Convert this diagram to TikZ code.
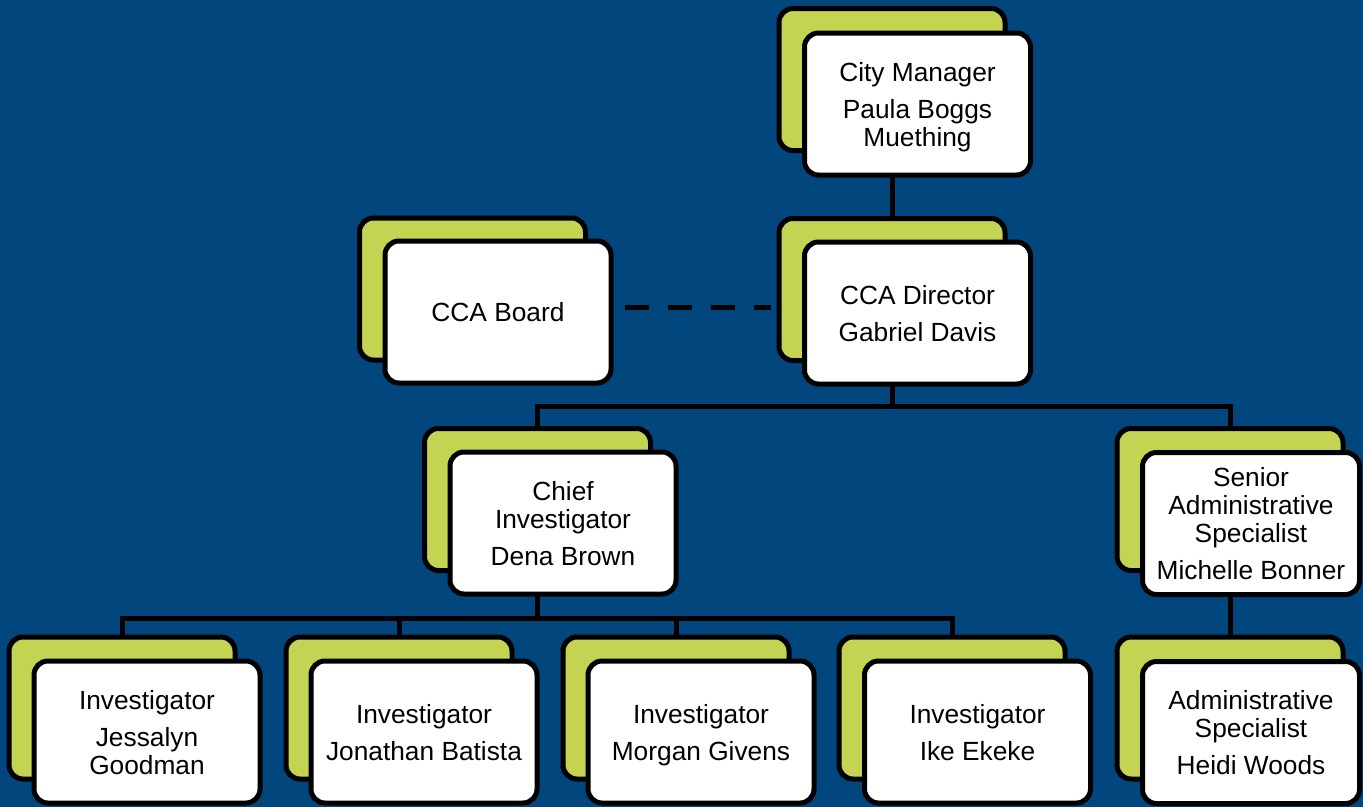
\documentclass[tikz,border=0pt]{standalone}
\usepackage{fontspec}
\setmainfont{Liberation Sans}
\definecolor{navybg}{RGB}{1,70,125}
\definecolor{limecard}{RGB}{196,212,82}
% fixed height for the first line and depth for the last line of every card
\newcommand\cardtop{\rule{0pt}{25pt}}
\newcommand\cardstrut{\rule[-5.6pt]{0pt}{5.6pt}}
\tikzset{
  x=1pt, y=-1pt,
  card/.style={draw=black, line width=5pt, rounded corners=14pt,
    minimum width=226pt, minimum height=142pt, inner sep=0pt,
    align=center, font=\fontsize{26.3}{28}\selectfont},
  backcard/.style={card, fill=limecard},
  frontcard/.style={card, fill=white},
  conn/.style={draw=black, line width=5pt},
  dashline/.style={draw=black, line width=5pt, dash pattern=on 24pt off 19pt}
}
\begin{document}
\begin{tikzpicture}
\fill[navybg] (0,0) rectangle (1363,807);
\useasboundingbox (0,0) rectangle (1363,807);

% back (green) cards
\node[backcard] (cmB)    at (892,79.5) {};
\node[backcard] (dirB)   at (892,289.5) {};
\node[backcard] (boardB) at (472.5,289) {};
\node[backcard] (chiefB) at (537.5,499.5) {};
\node[backcard] (senB)   at (1230,499.5) {};
\node[backcard] (inv1B)  at (122,708) {};
\node[backcard] (inv2B)  at (399,708) {};
\node[backcard] (inv3B)  at (676,708) {};
\node[backcard] (inv4B)  at (952,708) {};
\node[backcard] (admB)   at (1230,708) {};

% connectors (behind the front cards)
\draw[conn] (cmB.south) -- (dirB.north);
\draw[conn] (dirB.south) -- ++(0,43) coordinate (j1);
\draw[conn] (j1) -| (chiefB.north);
\draw[conn] (j1) -| (senB.north);
\draw[conn] (chiefB.south) -- ++(0,45) coordinate (j2);
\draw[conn] (j2) -| (inv1B.north);
\draw[conn] (j2) -| (inv2B.north);
\draw[conn] (j2) -| (inv3B.north);
\draw[conn] (j2) -| (inv4B.north);
\draw[conn] (senB.south) -- (admB.north);

% front (white) cards
\node[frontcard] (cm)    at (917.5,104) {\cardtop City Manager\\[9pt]Paula Boggs\\Muething\cardstrut};
\node[frontcard] (dir)   at (917.5,313) {\cardtop CCA Director\\[9pt]Gabriel Davis\cardstrut};
\node[frontcard] (board) at (498,312) {\cardtop CCA Board\cardstrut};
\node[frontcard] (chief) at (563,523) {\cardtop Chief\\Investigator\\[9pt]Dena Brown\cardstrut};
\node[frontcard, minimum width=217pt] (sen) at (1251,523.5) {\cardtop Senior\\Administrative\\Specialist\\[9pt]Michelle Bonner\cardstrut};
\node[frontcard] (inv1)  at (147,732) {\cardtop Investigator\\[9pt]Jessalyn\\Goodman\cardstrut};
\node[frontcard] (inv2)  at (424,732) {\cardtop Investigator\\[9pt]Jonathan Batista\cardstrut};
\node[frontcard] (inv3)  at (701,732) {\cardtop Investigator\\[9pt]Morgan Givens\cardstrut};
\node[frontcard] (inv4)  at (977.5,732) {\cardtop Investigator\\[9pt]Ike Ekeke\cardstrut};
\node[frontcard, minimum width=217pt] (adm) at (1251,732.5) {\cardtop Administrative\\Specialist\\[9pt]Heidi Woods\cardstrut};

% advisory link
\draw[dashline, shorten <=11pt, shorten >=6pt]
  ([yshift=5pt]board.east) -- ([yshift=5pt]board.east -| dirB.west);
\end{tikzpicture}
\end{document}
